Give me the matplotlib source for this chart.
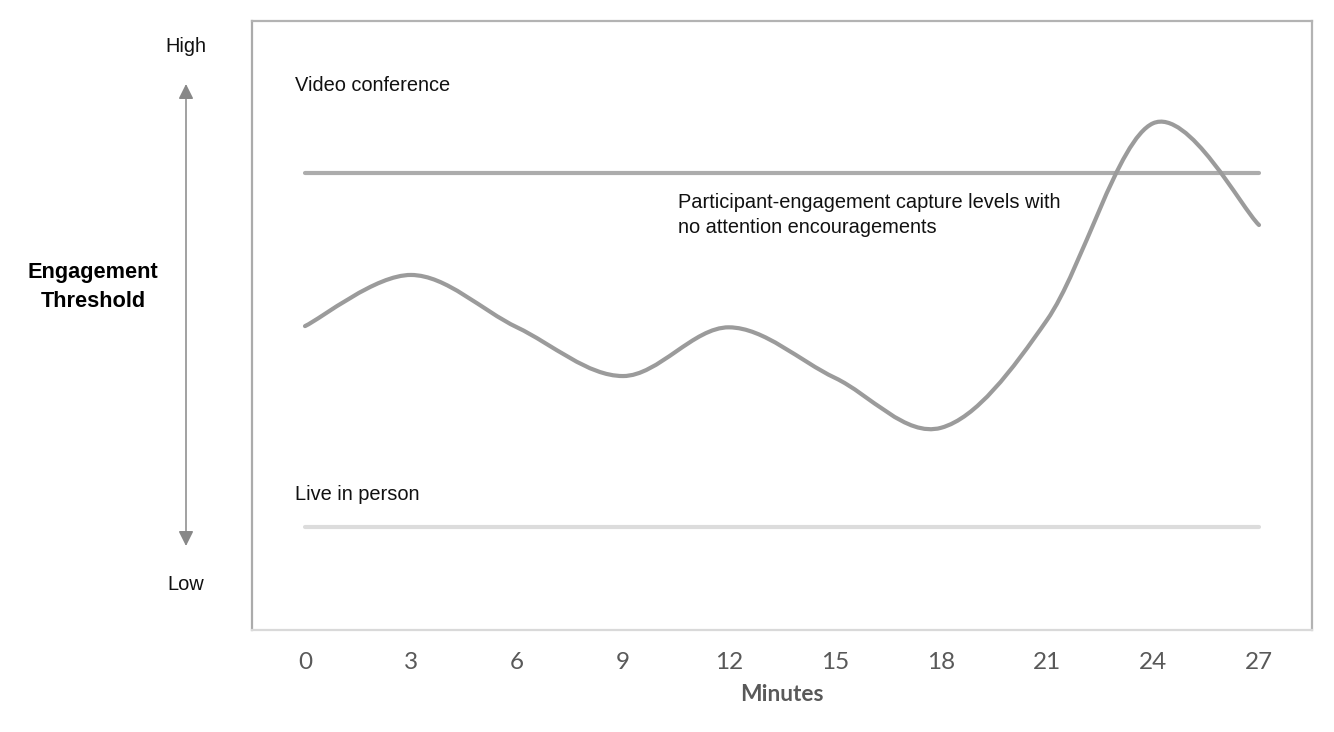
import numpy as np
import matplotlib
matplotlib.use("Agg")
import matplotlib.pyplot as plt
from matplotlib.path import Path
from matplotlib.patches import PathPatch, FancyArrowPatch

# ---- data ----
minutes = [0, 3, 6, 9, 12, 15, 18, 21, 24, 27]
engagement = [49.9, 58.3, 49.7, 41.7, 49.7, 41.4, 33.2, 50.9, 83.2, 66.5]
video_conference_level = 75.0
live_in_person_level = 16.9
tick_labels = [str(m) for m in minutes]

# ---- figure ----
W, H = 1334, 732
fig = plt.figure(figsize=(W / 100, H / 100), dpi=100)
ax = fig.add_axes([252 / W, 1 - 630 / H, (1312 - 252) / W, (630 - 21) / H])
ax.set_xlim(-1.5, 28.5)
ax.set_ylim(0, 100)

# frame
for side, col in [("left", "#ababab"), ("top", "#b3b3b3"), ("right", "#b3b3b3"), ("bottom", "#d9d9d9")]:
    ax.spines[side].set_color(col)
    ax.spines[side].set_linewidth(1.6)

# Excel-like smoothed line (Catmull-Rom -> cubic Bezier)
xs = np.array(minutes, dtype=float)
ys = np.array(engagement, dtype=float)
pts = np.column_stack([xs, ys])
ext = np.vstack([pts[0], pts, pts[-1]])
verts = [tuple(pts[0])]
codes = [Path.MOVETO]
for i in range(len(pts) - 1):
    p0, p1, p2, p3 = ext[i], ext[i + 1], ext[i + 2], ext[i + 3]
    c1 = p1 + (p2 - p0) / 6.0
    c2 = p2 - (p3 - p1) / 6.0
    verts += [tuple(c1), tuple(c2), tuple(p2)]
    codes += [Path.CURVE4, Path.CURVE4, Path.CURVE4]
patch = PathPatch(Path(verts, codes), facecolor="none", edgecolor="#9b9b9b",
                  linewidth=3.0, capstyle="round", joinstyle="round", zorder=4)
ax.add_patch(patch)

# threshold lines
ax.plot([minutes[0], minutes[-1]], [video_conference_level] * 2, color="#acacac",
        linewidth=3.0, solid_capstyle="round", zorder=3)
ax.plot([minutes[0], minutes[-1]], [live_in_person_level] * 2, color="#dcdcdc",
        linewidth=3.0, solid_capstyle="round", zorder=3)

# labels inside
tfont = dict(family=["Liberation Sans", "DejaVu Sans"], fontsize=14.4, color="#111111")
ax.text(-0.28, 89.4, "Video conference", ha="left", va="center", **tfont)
ax.text(-0.28, 22.2, "Live in person", ha="left", va="center", **tfont)
ax.text(10.55, 68.2, "Participant-engagement capture levels with\nno attention encouragements",
        ha="left", va="center", linespacing=1.4, **tfont)

# ticks
ax.set_xticks(minutes)
ax.set_xticklabels(tick_labels, family=["Lato", "DejaVu Sans"], fontsize=17.5,
                   color="#595959", fontweight="normal")
ax.tick_params(axis="x", length=0, pad=16)
ax.set_yticks([])
ax.set_xlabel("Minutes", family=["Lato", "DejaVu Sans"], fontsize=16.4, fontweight="bold",
              color="#595959", labelpad=8)

# left side annotations
fx = 186 / W
fig.text(fx, 1 - 47 / H, "High", ha="center", va="center", **tfont)
fig.text(fx, 1 - 585 / H, "Low", ha="center", va="center", **tfont)
fig.text(93 / W, 1 - 287 / H, "Engagement\nThreshold", ha="center", va="center",
         family=["Liberation Sans", "DejaVu Sans"], fontsize=15.7, fontweight="bold",
         color="#000000", linespacing=1.45)
fig.add_artist(FancyArrowPatch(
    (fx, 1 - 546 / H), (fx, 1 - 84 / H), transform=fig.transFigure,
    arrowstyle="<|-|>,head_length=0.5,head_width=0.25", mutation_scale=18,
    color="#888888", linewidth=1.1, shrinkA=0, shrinkB=0))

fig.savefig("out.png", dpi=100, facecolor="white")
